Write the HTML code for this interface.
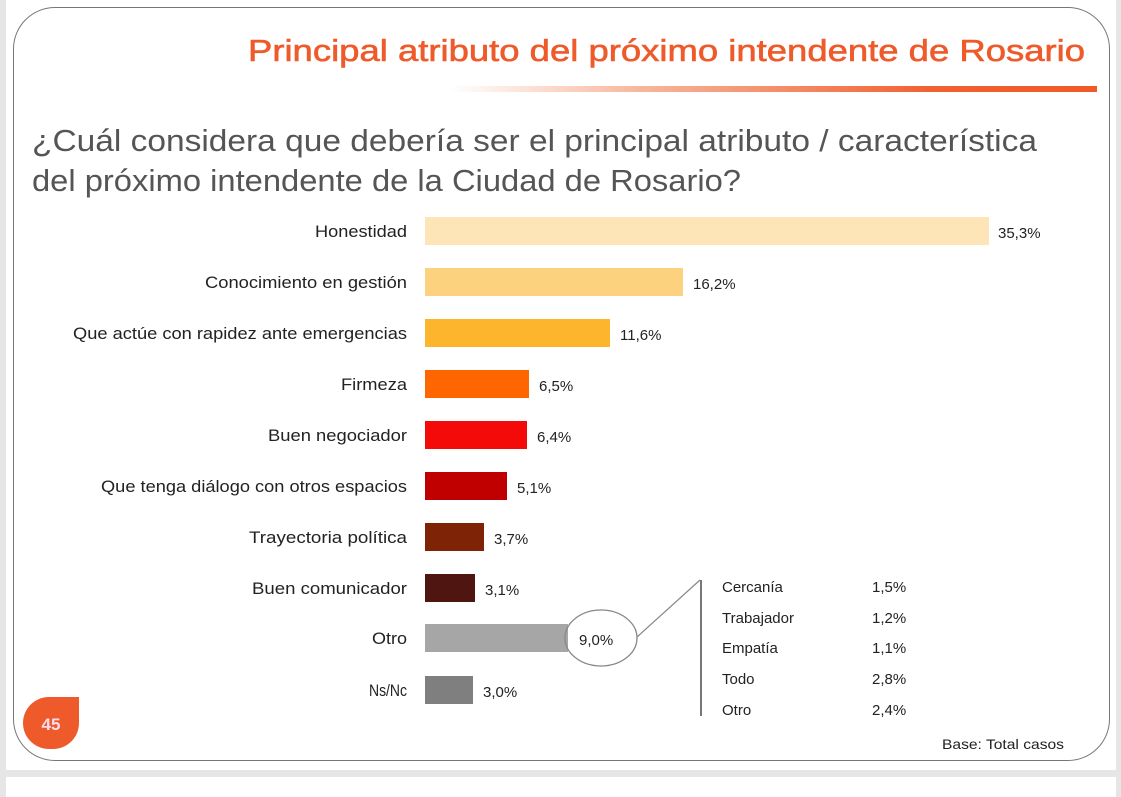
<!DOCTYPE html>
<html><head><meta charset="utf-8"><style>
body{margin:0;width:1121px;height:789px;background:#e6e6e6;font-family:"Liberation Sans",sans-serif;position:relative;overflow:hidden}
.pg{position:absolute;left:6px;top:0;width:1110px;height:770px;background:#fff}
.pg2{position:absolute;left:6px;top:777px;width:1110px;height:20px;background:#fff}
.card{position:absolute;left:13px;top:7px;width:1095px;height:752px;border:1.5px solid #777;border-radius:42px}
svg{position:absolute;left:0;top:0}
text{font-family:"Liberation Sans",sans-serif}
</style></head><body>
<div class="pg"></div><div class="pg2"></div>
<div class="card"></div>
<svg width="1121" height="789">
<defs><linearGradient id="g" x1="0" x2="1"><stop offset="0" stop-color="#fff"/><stop offset="0.3" stop-color="#f7b59a"/><stop offset="0.75" stop-color="#f06030"/><stop offset="1" stop-color="#f05a28"/></linearGradient></defs>
<text x="248" y="61" font-size="31" fill="#ef5a2a" stroke="#ef5a2a" stroke-width="0.6" textLength="837" lengthAdjust="spacingAndGlyphs">Principal atributo del próximo intendente de Rosario</text>
<rect x="450" y="86" width="647" height="6" fill="url(#g)"/>
<text x="32" y="151" font-size="31" fill="#555" textLength="1005" lengthAdjust="spacingAndGlyphs">¿Cuál considera que debería ser el principal atributo / característica</text>
<text x="32" y="191" font-size="31" fill="#555" textLength="709" lengthAdjust="spacingAndGlyphs">del próximo intendente de la Ciudad de Rosario?</text>
<g font-size="17" fill="#222" text-anchor="end">
<text x="407" y="237" textLength="92" lengthAdjust="spacingAndGlyphs">Honestidad</text>
<text x="407" y="288" textLength="202" lengthAdjust="spacingAndGlyphs">Conocimiento en gestión</text>
<text x="407" y="339" textLength="334" lengthAdjust="spacingAndGlyphs">Que actúe con rapidez ante emergencias</text>
<text x="407" y="390" textLength="66" lengthAdjust="spacingAndGlyphs">Firmeza</text>
<text x="407" y="441" textLength="139" lengthAdjust="spacingAndGlyphs">Buen negociador</text>
<text x="407" y="492" textLength="306" lengthAdjust="spacingAndGlyphs">Que tenga diálogo con otros espacios</text>
<text x="407" y="543" textLength="158" lengthAdjust="spacingAndGlyphs">Trayectoria política</text>
<text x="407" y="594" textLength="155" lengthAdjust="spacingAndGlyphs">Buen comunicador</text>
<text x="407" y="644" textLength="35" lengthAdjust="spacingAndGlyphs">Otro</text>
<text x="407" y="696" textLength="38" lengthAdjust="spacingAndGlyphs">Ns/Nc</text>
</g>
<rect x="425" y="217" width="564" height="28" fill="#fde5b8"/>
<rect x="425" y="268" width="258" height="28" fill="#fdd27f"/>
<rect x="425" y="319" width="185" height="28" fill="#fdb52e"/>
<rect x="425" y="370" width="104" height="28" fill="#ff6600"/>
<rect x="425" y="421" width="102" height="28" fill="#f50a0a"/>
<rect x="425" y="472" width="82" height="28" fill="#c00000"/>
<rect x="425" y="523" width="59" height="28" fill="#7f2306"/>
<rect x="425" y="574" width="50" height="28" fill="#4f1510"/>
<rect x="425" y="624" width="143" height="28" fill="#a6a6a6"/>
<rect x="425" y="676" width="48" height="28" fill="#7f7f7f"/>
<g font-size="15" fill="#222">
<text x="998" y="238">35,3%</text>
<text x="693" y="289">16,2%</text>
<text x="620" y="340">11,6%</text>
<text x="539" y="391">6,5%</text>
<text x="537" y="442">6,4%</text>
<text x="517" y="493">5,1%</text>
<text x="494" y="544">3,7%</text>
<text x="485" y="595">3,1%</text>
<text x="579" y="645">9,0%</text>
<text x="483" y="697">3,0%</text>
<text x="722" y="592">Cercanía</text><text x="872" y="592">1,5%</text>
<text x="722" y="623">Trabajador</text><text x="872" y="623">1,2%</text>
<text x="722" y="653">Empatía</text><text x="872" y="653">1,1%</text>
<text x="722" y="684">Todo</text><text x="872" y="684">2,8%</text>
<text x="722" y="715">Otro</text><text x="872" y="715">2,4%</text>
<text x="942" y="749" font-size="14" textLength="122" lengthAdjust="spacingAndGlyphs">Base: Total casos</text>
</g>
<ellipse cx="601" cy="638" rx="36" ry="28" fill="none" stroke="#888" stroke-width="1.3"/>
<line x1="637" y1="637" x2="700" y2="580" stroke="#888" stroke-width="1.2"/>
<line x1="701" y1="580" x2="701" y2="716" stroke="#777" stroke-width="2"/>
<path d="M23 723 a26 26 0 0 1 26 -26 h30 v26 a26 26 0 0 1 -26 26 h-4 a26 26 0 0 1 -26 -26z" fill="#ef5a2a"/>
<text x="51" y="730" font-size="17" font-weight="bold" fill="#fde" text-anchor="middle">45</text>
</svg>
</body></html>
